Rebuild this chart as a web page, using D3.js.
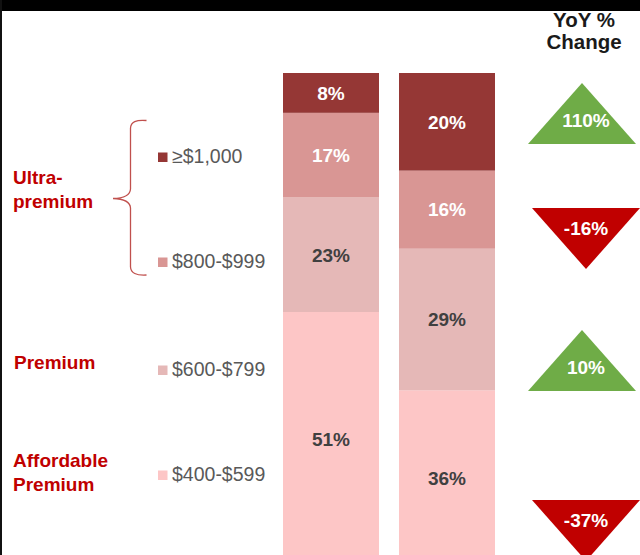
<!DOCTYPE html>
<html>
<head>
<meta charset="utf-8">
<script src="https://cdn.jsdelivr.net/npm/d3@7"></script>
<style>
  html, body { margin: 0; padding: 0; background: #fff; }
  svg { display: block; font-family: "Liberation Sans", Arial, sans-serif; }
</style>
</head>
<body>
<svg id="chart" width="640" height="555"></svg>
<script>
// ---- data ----
const periods = ["Prior year", "Current year"];
const tiers = ["≥$1,000", "$800-$999", "$600-$799", "$400-$599"];
const sharePrior = [8, 17, 23, 51];
const shareCurrent = [20, 16, 29, 36];
const yoyChange = [110, -16, 10, -37];
const groupLabels = [["Ultra-", "premium"], ["Premium"], ["Affordable", "Premium"]];
const headerLines = ["YoY %", "Change"];

// ---- styles ----
const tierColors = ["#953735", "#d99694", "#e5b8b7", "#fdc6c6"];
const labelColors = ["#ffffff", "#ffffff", "#404040", "#404040"];
const upColor = "#6fac47", downColor = "#c00000", groupColor = "#c00000";

const svg = d3.select("#chart");

// rows for stacking
const rows = periods.map((p, i) => {
  const r = { period: p };
  tiers.forEach((t, j) => r[t] = (i === 0 ? sharePrior : shareCurrent)[j]);
  return r;
});
const stackKeys = tiers.slice().reverse(); // bottom first
const series = d3.stack().keys(stackKeys).offset(d3.stackOffsetExpand)(rows);

const x = d3.scaleBand().domain(periods).range([283, 495]).paddingInner(0.1724).paddingOuter(0);
const y = d3.scaleLinear().domain([0, 1]).range([566, 73]);
const color = d3.scaleOrdinal().domain(tiers).range(tierColors);
const lblColor = d3.scaleOrdinal().domain(tiers).range(labelColors);

const g = svg.append("g");
series.forEach(s => {
  g.selectAll(null).data(s).join("rect")
    .attr("x", d => x(d.data.period))
    .attr("width", x.bandwidth())
    .attr("y", d => y(d[1]))
    .attr("height", d => y(d[0]) - y(d[1]))
    .attr("fill", color(s.key));
  g.selectAll(null).data(s).join("text")
    .attr("x", d => x(d.data.period) + x.bandwidth() / 2)
    .attr("y", d => (y(d[0]) + y(d[1])) / 2 + 6.8)
    .attr("text-anchor", "middle")
    .attr("font-size", 19)
    .attr("font-weight", "bold")
    .attr("fill", lblColor(s.key))
    .text(d => d.data[s.key] + "%");
});

// ---- legend ----
const legendBase = [163, 268, 376, 481];
const lg = svg.append("g");
tiers.forEach((t, i) => {
  lg.append("rect").attr("x", 158).attr("y", legendBase[i] - 10.5)
    .attr("width", 9.5).attr("height", 9.5).attr("fill", color(t));
  lg.append("text").attr("x", 172).attr("y", legendBase[i])
    .attr("font-size", 19.5).attr("fill", "#595959").text(t);
});

// ---- group labels ----
const groupPos = [{ x: 13, y: 184 }, { x: 14, y: 369 }, { x: 13, y: 467 }];
groupLabels.forEach((lines, i) => {
  lines.forEach((ln, k) => {
    svg.append("text").attr("x", groupPos[i].x).attr("y", groupPos[i].y + k * 23.5)
      .attr("font-size", 19).attr("font-weight", "bold").attr("fill", groupColor).text(ln);
  });
});

// brace
const bp = d3.path();
bp.moveTo(146.5, 120.5);
bp.quadraticCurveTo(131, 119, 130.5, 128);
bp.lineTo(130.5, 189);
bp.quadraticCurveTo(130, 198, 113, 198.5);
bp.quadraticCurveTo(130, 199, 130.5, 208);
bp.lineTo(130.5, 267);
bp.quadraticCurveTo(131, 276, 146.5, 275);
svg.append("path").attr("d", bp.toString()).attr("fill", "none")
  .attr("stroke", "#c0504d").attr("stroke-width", 1.3);

// ---- YoY triangles ----
const triTop = [83, 208, 330, 500];
const triW = 108, triH = 61;
const tg = svg.append("g");
yoyChange.forEach((v, i) => {
  const up = v >= 0;
  const cx = up ? 582 : 586;
  const top = triTop[i];
  const pts = up
    ? [[cx, top], [cx + triW / 2, top + triH], [cx - triW / 2, top + triH]]
    : [[cx - triW / 2, top], [cx + triW / 2, top], [cx, top + triH]];
  tg.append("path").attr("d", d3.line()(pts) + "Z").attr("fill", up ? upColor : downColor);
  tg.append("text").attr("x", 586).attr("y", up ? top + 44 : top + 27)
    .attr("text-anchor", "middle").attr("font-size", 19).attr("font-weight", "bold")
    .attr("fill", "#ffffff").text(v + "%");
});

// header
headerLines.forEach((ln, k) => {
  svg.append("text").attr("x", 584).attr("y", 27 + k * 22)
    .attr("text-anchor", "middle").attr("font-size", 20.5).attr("font-weight", "bold")
    .attr("fill", "#1a1a1a").text(ln);
});

// frame: top black band and left edge
svg.append("rect").attr("x", 0).attr("y", 0).attr("width", 640).attr("height", 11).attr("fill", "#000");
svg.append("rect").attr("x", 0).attr("y", 0).attr("width", 2).attr("height", 555).attr("fill", "#111");
</script>
</body>
</html>
